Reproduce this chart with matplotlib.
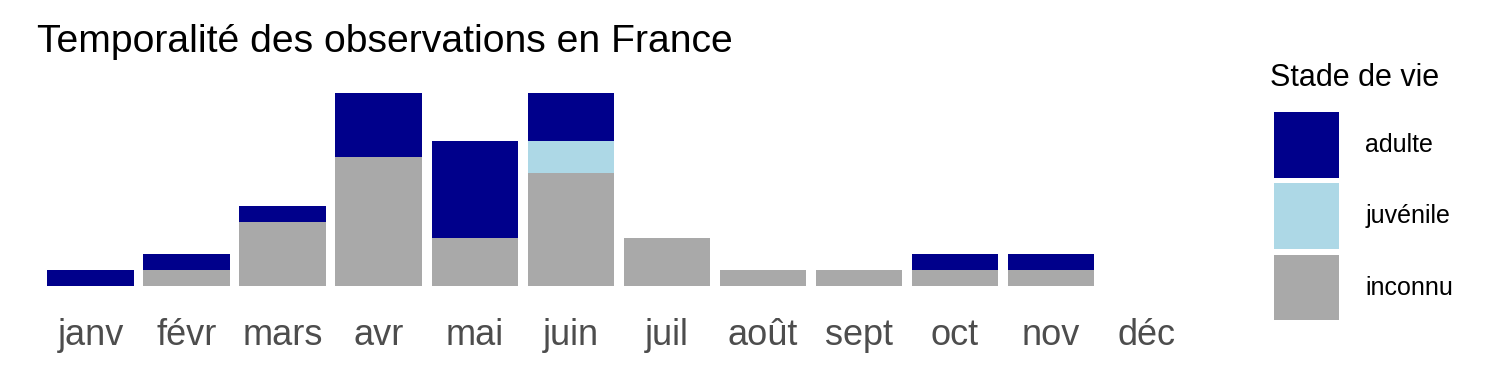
import matplotlib
matplotlib.use("Agg")
import matplotlib.pyplot as plt
import numpy as np

# observations par mois et par stade de vie
mois = ["janv", "févr", "mars", "avr", "mai", "juin", "juil", "août", "sept", "oct", "nov", "déc"]
inconnu = [0, 1, 4, 8, 3, 7, 3, 1, 1, 1, 1, 0]
juvenile = [0, 0, 0, 0, 0, 2, 0, 0, 0, 0, 0, 0]
adulte = [1, 1, 1, 4, 6, 3, 0, 0, 0, 1, 1, 0]

stades = ["adulte", "juvénile", "inconnu"]
couleurs = {"adulte": "#00008B", "juvénile": "#ADD8E6", "inconnu": "#A9A9A9"}

plt.rcParams["font.family"] = ["Liberation Sans", "DejaVu Sans"]

fig = plt.figure(figsize=(15, 3.75), dpi=100)
ax = fig.add_axes([0.022, 0.2117, 0.781, 0.566])

x = np.arange(len(mois))
bas = np.zeros(len(mois))
handles = {}
for nom, vals in [("inconnu", inconnu), ("juvénile", juvenile), ("adulte", adulte)]:
    vals = np.array(vals, dtype=float)
    handles[nom] = ax.bar(x, vals, width=0.9, bottom=bas, color=couleurs[nom], label=nom)
    bas += vals

total = max(bas)
ax.set_xlim(-0.6, len(mois) - 0.4)
ax.set_ylim(-0.05 * total, total * 1.05)
ax.set_xticks(x)
ax.set_xticklabels(mois, fontsize=26, color="#4D4D4D")
ax.tick_params(axis="x", length=0, pad=16)
ax.set_yticks([])
for s in ax.spines.values():
    s.set_visible(False)

fig.text(0.0247, 0.888, "Temporalité des observations en France", fontsize=28.2, va="center", ha="left")

# legende : titre a part pour garder l'ecart avec les carres
fig.text(0.8467, 0.792, "Stade de vie", fontsize=22, va="center", ha="left")
leg = fig.legend([handles[s] for s in stades], stades, loc="upper left",
                 bbox_to_anchor=(0.849, 0.701), frameon=False, fontsize=18,
                 handlelength=2.62, handleheight=3.66, labelspacing=0.23,
                 handletextpad=1.05, borderpad=0, borderaxespad=0)

fig.savefig("out.png", dpi=100)
